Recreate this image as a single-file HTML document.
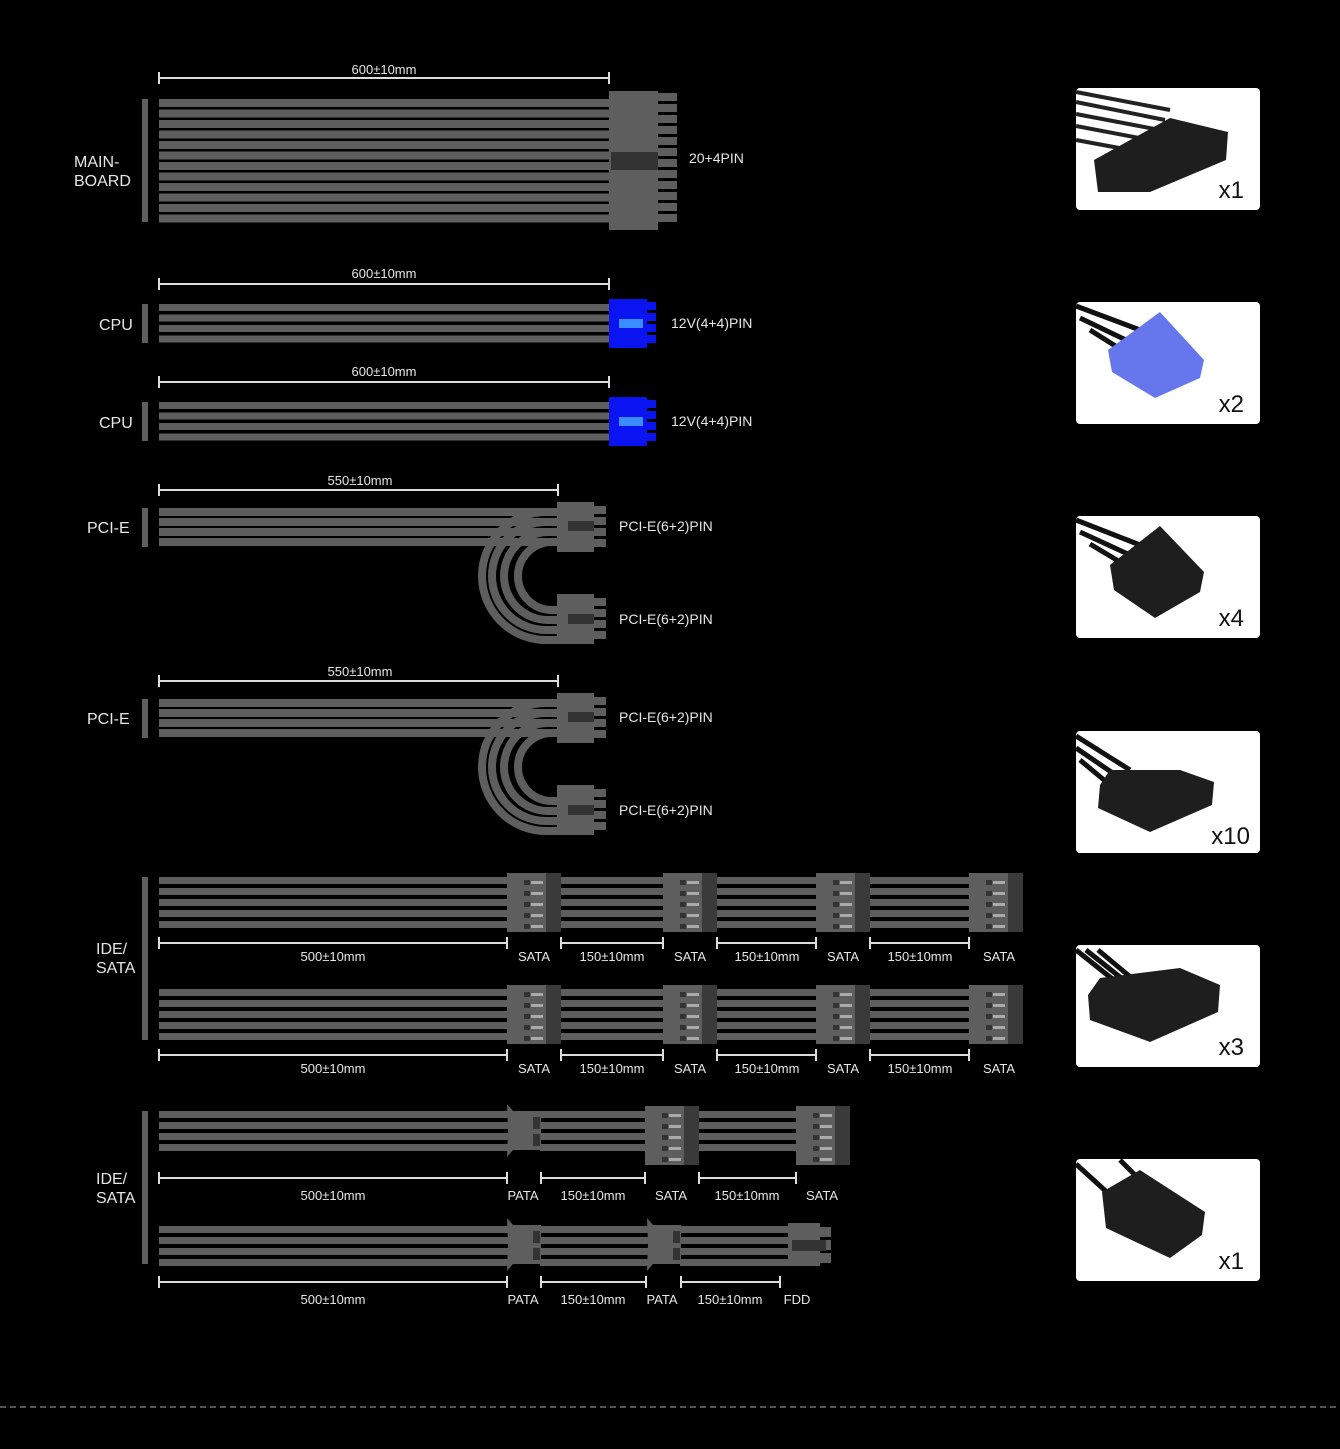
<!DOCTYPE html>
<html><head><meta charset="utf-8"><style>
html,body{margin:0;padding:0;background:#000;}
svg{display:block;}
text{font-family:"Liberation Sans",sans-serif;fill:#e6e6e6;}
</style></head><body>
<svg width="1340" height="1449" viewBox="0 0 1340 1449" xmlns="http://www.w3.org/2000/svg">
<defs>
<g id="sata">
<rect x="0" y="0" width="39" height="59" fill="#5e5e5e"/>
<rect x="39" y="0" width="15" height="59" fill="#3a3a3a"/>
<g fill="#333"><rect x="17" y="7" width="6" height="5"/><rect x="17" y="18" width="6" height="5"/><rect x="17" y="29" width="6" height="5"/><rect x="17" y="40" width="6" height="5"/><rect x="17" y="51" width="6" height="5"/></g>
<g fill="#aaa"><rect x="24" y="8" width="12" height="3"/><rect x="24" y="19" width="12" height="3"/><rect x="24" y="30" width="12" height="3"/><rect x="24" y="41" width="12" height="3"/><rect x="24" y="52" width="12" height="3"/></g>
</g>
<g id="sw5">
<g fill="#5e5e5e"><rect x="0" y="0" width="100" height="7"/><rect x="0" y="11" width="100" height="7"/><rect x="0" y="22" width="100" height="7"/><rect x="0" y="33" width="100" height="7"/><rect x="0" y="44" width="100" height="7"/></g>
</g>
<g id="pata">
<polygon points="0,0 6,7 34,7 34,46 6,46 0,53 1,26" fill="#5e5e5e"/>
<rect x="26" y="13" width="7" height="12" fill="#333"/>
<rect x="26" y="30" width="7" height="12" fill="#333"/>
</g>
<g id="tick"><line x1="0" y1="-6" x2="0" y2="6" stroke="#ddd" stroke-width="2"/></g>
</defs>

<text x="74" y="167" font-size="16">MAIN-</text>
<text x="74" y="186" font-size="16">BOARD</text>
<rect x="142" y="99" width="6" height="123" fill="#5e5e5e"/>
<g fill="#5e5e5e">
<rect x="159" y="99" width="450" height="8"/><rect x="159" y="109.5" width="450" height="8"/><rect x="159" y="120" width="450" height="8"/><rect x="159" y="130.5" width="450" height="8"/><rect x="159" y="141" width="450" height="8"/><rect x="159" y="151.5" width="450" height="8"/><rect x="159" y="162" width="450" height="8"/><rect x="159" y="172.5" width="450" height="8"/><rect x="159" y="183" width="450" height="8"/><rect x="159" y="193.5" width="450" height="8"/><rect x="159" y="204" width="450" height="8"/><rect x="159" y="214.5" width="450" height="8"/>
<rect x="609" y="91" width="49" height="139"/>
<rect x="658" y="93" width="19" height="8"/><rect x="658" y="104" width="19" height="8"/><rect x="658" y="115" width="19" height="8"/><rect x="658" y="126" width="19" height="8"/><rect x="658" y="137" width="19" height="8"/><rect x="658" y="148" width="19" height="8"/><rect x="658" y="159" width="19" height="8"/><rect x="658" y="170" width="19" height="8"/><rect x="658" y="181" width="19" height="8"/><rect x="658" y="192" width="19" height="8"/><rect x="658" y="203" width="19" height="8"/><rect x="658" y="214" width="19" height="8"/>
</g>
<rect x="611" y="152" width="47" height="18" fill="#333"/>
<text x="689" y="163" font-size="14">20+4PIN</text>
<line x1="159" y1="78" x2="609" y2="78" stroke="#ddd" stroke-width="2"/><use href="#tick" x="159" y="78"/><use href="#tick" x="609" y="78"/>
<text x="384" y="74" font-size="13" text-anchor="middle">600±10mm</text>

<g id="cpu">
<text x="99" y="330" font-size="16">CPU</text>
<rect x="142" y="304" width="6" height="39" fill="#5e5e5e"/>
<g fill="#5e5e5e"><rect x="159" y="304" width="450" height="7"/><rect x="159" y="314.5" width="450" height="7"/><rect x="159" y="325" width="450" height="7"/><rect x="159" y="335.5" width="450" height="7"/></g>
<rect x="609" y="299" width="38" height="49" fill="#0a14f0"/>
<g fill="#0a14f0"><rect x="647" y="302" width="9" height="8"/><rect x="647" y="313" width="9" height="8"/><rect x="647" y="324" width="9" height="8"/><rect x="647" y="335" width="9" height="8"/></g>
<rect x="619" y="319" width="24" height="9" fill="#3a8cff"/>
<text x="671" y="328" font-size="14">12V(4+4)PIN</text>
<line x1="159" y1="284" x2="609" y2="284" stroke="#ddd" stroke-width="2"/><use href="#tick" x="159" y="284"/><use href="#tick" x="609" y="284"/>
<text x="384" y="278" font-size="13" text-anchor="middle">600±10mm</text>
</g>
<use href="#cpu" x="0" y="98"/>

<g id="pcie">
<text x="87" y="533" font-size="16">PCI-E</text>
<rect x="142" y="508" width="6" height="39" fill="#5e5e5e"/>
<g stroke="#5e5e5e" stroke-width="8" fill="none">
<path d="M159 512 H558"/><path d="M159 522 H558"/><path d="M159 532 H558"/><path d="M159 542 H558"/>
<path d="M546 512 A64 64 0 0 0 546 640 H560"/>
<path d="M546 522 A54 54 0 0 0 546 630 H560"/>
<path d="M548 532 A44 44 0 0 0 548 620 H560"/>
<path d="M552 542 A34 34 0 0 0 552 610 H560"/>
</g>
<g fill="#5e5e5e">
<rect x="557" y="502" width="37" height="50"/>
<rect x="594" y="506" width="12" height="8"/><rect x="594" y="517" width="12" height="8"/><rect x="594" y="528" width="12" height="8"/><rect x="594" y="539" width="12" height="8"/>
<rect x="557" y="594" width="37" height="50"/>
<rect x="594" y="598" width="12" height="8"/><rect x="594" y="609" width="12" height="8"/><rect x="594" y="620" width="12" height="8"/><rect x="594" y="631" width="12" height="8"/>
</g>
<rect x="568" y="521" width="26" height="10" fill="#333"/>
<rect x="568" y="614" width="26" height="10" fill="#333"/>
<text x="619" y="531" font-size="14">PCI-E(6+2)PIN</text>
<text x="619" y="624" font-size="14">PCI-E(6+2)PIN</text>
<line x1="159" y1="490" x2="558" y2="490" stroke="#ddd" stroke-width="2"/><use href="#tick" x="159" y="490"/><use href="#tick" x="558" y="490"/>
<text x="360" y="485" font-size="13" text-anchor="middle">550±10mm</text>
</g>
<use href="#pcie" x="0" y="191"/>

<text x="96" y="954" font-size="16">IDE/</text>
<text x="96" y="973" font-size="16">SATA</text>
<rect x="142" y="877" width="6" height="163" fill="#5e5e5e"/>
<g id="satarow">
<g fill="#5e5e5e"><rect x="159" y="877" width="348" height="7"/><rect x="159" y="888" width="348" height="7"/><rect x="159" y="899" width="348" height="7"/><rect x="159" y="910" width="348" height="7"/><rect x="159" y="921" width="348" height="7"/></g>
<use href="#sata" x="507" y="873"/>
<use href="#sw5" transform="translate(561,877) scale(1.02,1)"/>
<use href="#sata" x="663" y="873"/>
<use href="#sw5" transform="translate(717,877) scale(0.99,1)"/>
<use href="#sata" x="816" y="873"/>
<use href="#sw5" transform="translate(870,877) scale(0.99,1)"/>
<use href="#sata" x="969" y="873"/>
<g stroke="#ddd" stroke-width="2">
<line x1="159" y1="943" x2="507" y2="943"/><line x1="561" y1="943" x2="663" y2="943"/><line x1="717" y1="943" x2="816" y2="943"/><line x1="870" y1="943" x2="969" y2="943"/>
</g>
<use href="#tick" x="159" y="943"/><use href="#tick" x="507" y="943"/><use href="#tick" x="561" y="943"/><use href="#tick" x="663" y="943"/><use href="#tick" x="717" y="943"/><use href="#tick" x="816" y="943"/><use href="#tick" x="870" y="943"/><use href="#tick" x="969" y="943"/>
<g font-size="13" text-anchor="middle">
<text x="333" y="961">500±10mm</text><text x="534" y="961">SATA</text><text x="612" y="961">150±10mm</text><text x="690" y="961">SATA</text><text x="767" y="961">150±10mm</text><text x="843" y="961">SATA</text><text x="920" y="961">150±10mm</text><text x="999" y="961">SATA</text>
</g>
</g>
<use href="#satarow" x="0" y="112"/>

<text x="96" y="1184" font-size="16">IDE/</text>
<text x="96" y="1203" font-size="16">SATA</text>
<rect x="142" y="1111" width="6" height="153" fill="#5e5e5e"/>
<g fill="#5e5e5e">
<rect x="159" y="1111" width="350" height="7"/><rect x="159" y="1122" width="350" height="7"/><rect x="159" y="1133" width="350" height="7"/><rect x="159" y="1144" width="350" height="7"/>
<rect x="540" y="1111" width="106" height="7"/><rect x="540" y="1122" width="106" height="7"/><rect x="540" y="1133" width="106" height="7"/><rect x="540" y="1144" width="106" height="7"/>
<rect x="699" y="1111" width="97" height="7"/><rect x="699" y="1122" width="97" height="7"/><rect x="699" y="1133" width="97" height="7"/><rect x="699" y="1144" width="97" height="7"/>
</g>
<use href="#pata" x="507" y="1104"/>
<use href="#sata" x="645" y="1106"/>
<use href="#sata" x="796" y="1106"/>
<g stroke="#ddd" stroke-width="2"><line x1="159" y1="1178" x2="507" y2="1178"/><line x1="541" y1="1178" x2="645" y2="1178"/><line x1="699" y1="1178" x2="796" y2="1178"/></g>
<use href="#tick" x="159" y="1178"/><use href="#tick" x="507" y="1178"/><use href="#tick" x="541" y="1178"/><use href="#tick" x="645" y="1178"/><use href="#tick" x="699" y="1178"/><use href="#tick" x="796" y="1178"/>
<g font-size="13" text-anchor="middle">
<text x="333" y="1200">500±10mm</text><text x="523" y="1200">PATA</text><text x="593" y="1200">150±10mm</text><text x="671" y="1200">SATA</text><text x="747" y="1200">150±10mm</text><text x="822" y="1200">SATA</text>
</g>

<g fill="#5e5e5e">
<rect x="159" y="1226" width="350" height="7"/><rect x="159" y="1237" width="350" height="7"/><rect x="159" y="1248" width="350" height="7"/><rect x="159" y="1259" width="350" height="7"/>
<rect x="540" y="1226" width="109" height="7"/><rect x="540" y="1237" width="109" height="7"/><rect x="540" y="1248" width="109" height="7"/><rect x="540" y="1259" width="109" height="7"/>
<rect x="680" y="1226" width="110" height="7"/><rect x="680" y="1237" width="110" height="7"/><rect x="680" y="1248" width="110" height="7"/><rect x="680" y="1259" width="110" height="7"/>
<rect x="788" y="1223" width="32" height="43"/>
<rect x="820" y="1227" width="11" height="10"/><rect x="820" y="1240" width="11" height="10"/><rect x="820" y="1253" width="11" height="10"/>
</g>
<rect x="792" y="1240" width="34" height="11" fill="#333"/>
<use href="#pata" x="507" y="1218"/>
<use href="#pata" x="647" y="1218"/>
<g stroke="#ddd" stroke-width="2"><line x1="159" y1="1282" x2="507" y2="1282"/><line x1="541" y1="1282" x2="646" y2="1282"/><line x1="681" y1="1282" x2="780" y2="1282"/></g>
<use href="#tick" x="159" y="1282"/><use href="#tick" x="507" y="1282"/><use href="#tick" x="541" y="1282"/><use href="#tick" x="646" y="1282"/><use href="#tick" x="681" y="1282"/><use href="#tick" x="780" y="1282"/>
<g font-size="13" text-anchor="middle">
<text x="333" y="1304">500±10mm</text><text x="523" y="1304">PATA</text><text x="593" y="1304">150±10mm</text><text x="662" y="1304">PATA</text><text x="730" y="1304">150±10mm</text><text x="797" y="1304">FDD</text>
</g>

<g>
<rect x="1076" y="88" width="184" height="122" rx="4" fill="#fff"/>
<g stroke="#222" stroke-width="4"><line x1="1076" y1="92" x2="1170" y2="110"/><line x1="1076" y1="102" x2="1165" y2="120"/><line x1="1076" y1="114" x2="1160" y2="130"/><line x1="1076" y1="126" x2="1150" y2="140"/><line x1="1076" y1="140" x2="1130" y2="150"/></g>
<polygon points="1094,160 1170,118 1228,132 1226,160 1150,192 1098,192" fill="#1e1e1e"/>
<text x="1244" y="198" font-size="24" text-anchor="end" style="fill:#111">x1</text>
</g>
<g>
<rect x="1076" y="302" width="184" height="122" rx="4" fill="#fff"/>
<g stroke="#111" stroke-width="5"><line x1="1076" y1="306" x2="1140" y2="330"/><line x1="1080" y1="318" x2="1130" y2="342"/><line x1="1090" y1="330" x2="1125" y2="352"/></g>
<polygon points="1108,350 1160,312 1204,360 1200,378 1155,398 1112,372" fill="#6677ee"/>
<text x="1244" y="412" font-size="24" text-anchor="end" style="fill:#111">x2</text>
</g>
<g>
<rect x="1076" y="516" width="184" height="122" rx="4" fill="#fff"/>
<g stroke="#111" stroke-width="5"><line x1="1076" y1="520" x2="1140" y2="545"/><line x1="1080" y1="532" x2="1130" y2="555"/><line x1="1090" y1="544" x2="1125" y2="565"/></g>
<polygon points="1110,565 1160,526 1204,572 1200,592 1155,618 1114,590" fill="#1e1e1e"/>
<text x="1244" y="626" font-size="24" text-anchor="end" style="fill:#111">x4</text>
</g>
<g>
<rect x="1076" y="731" width="184" height="122" rx="4" fill="#fff"/>
<g stroke="#111" stroke-width="5"><line x1="1076" y1="736" x2="1130" y2="770"/><line x1="1076" y1="748" x2="1120" y2="778"/><line x1="1080" y1="760" x2="1110" y2="785"/></g>
<polygon points="1100,785 1110,770 1180,770 1214,782 1212,805 1150,832 1098,808" fill="#1e1e1e"/>
<text x="1250" y="844" font-size="24" text-anchor="end" style="fill:#111">x10</text>
</g>
<g>
<rect x="1076" y="945" width="184" height="122" rx="4" fill="#fff"/>
<g stroke="#111" stroke-width="5"><line x1="1076" y1="950" x2="1120" y2="985"/><line x1="1086" y1="950" x2="1130" y2="985"/><line x1="1098" y1="950" x2="1140" y2="985"/></g>
<polygon points="1088,995 1100,978 1180,968 1220,985 1218,1012 1150,1042 1090,1020" fill="#1e1e1e"/>
<text x="1244" y="1055" font-size="24" text-anchor="end" style="fill:#111">x3</text>
</g>
<g>
<rect x="1076" y="1159" width="184" height="122" rx="4" fill="#fff"/>
<g stroke="#111" stroke-width="5"><line x1="1076" y1="1164" x2="1110" y2="1195"/><line x1="1120" y1="1160" x2="1140" y2="1180"/></g>
<polygon points="1102,1192 1140,1170 1205,1212 1202,1235 1170,1258 1106,1228" fill="#1e1e1e"/>
<text x="1244" y="1269" font-size="24" text-anchor="end" style="fill:#111">x1</text>
</g>

<line x1="0" y1="1407" x2="1340" y2="1407" stroke="#555" stroke-width="2" stroke-dasharray="6,4"/>
</svg>
</body></html>
